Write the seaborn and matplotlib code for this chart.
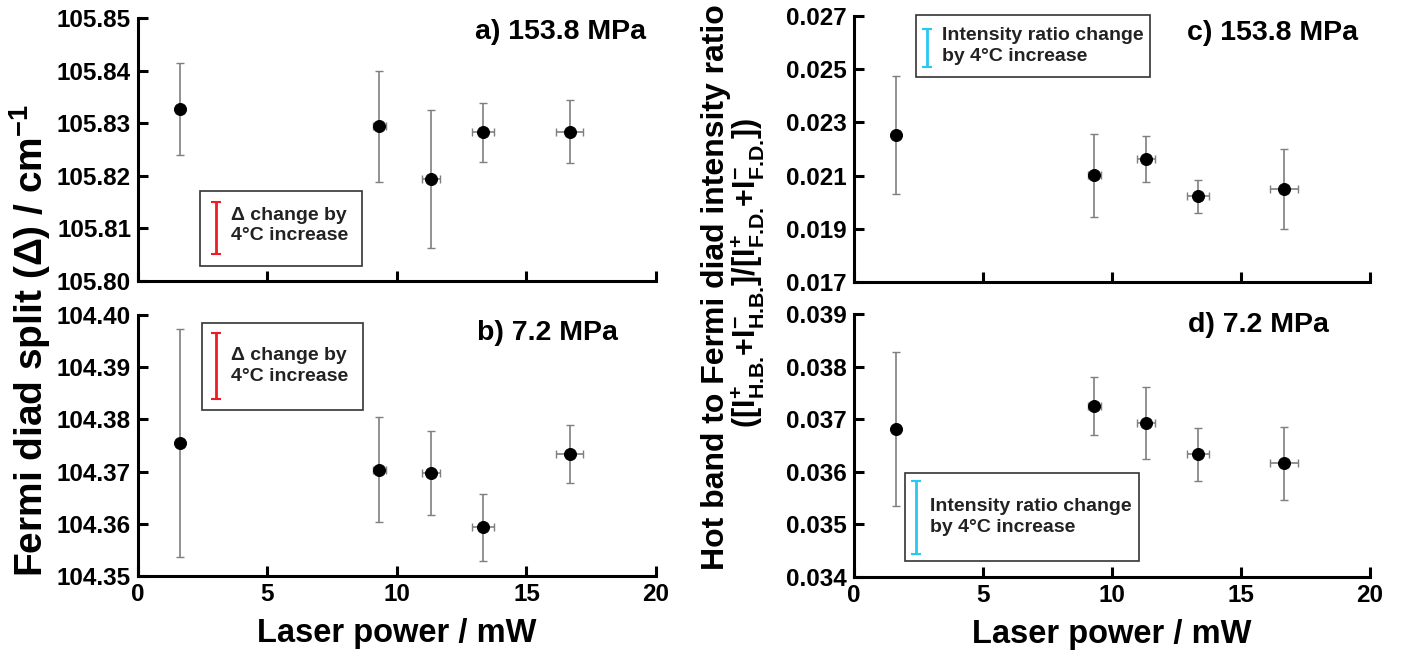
import numpy as np
import matplotlib
matplotlib.use('Agg')
import matplotlib.pyplot as plt
import seaborn as sns
from matplotlib.patches import Rectangle

## data
power = [1.62, 9.31, 11.31, 13.32, 16.67]                 # laser power / mW
power_err = [0.0, 0.25, 0.36, 0.42, 0.53]

split_hi = [105.8327, 105.8294, 105.8194, 105.8283, 105.8284]   # a) 153.8 MPa
split_hi_err = [0.0088, 0.0105, 0.0131, 0.0056, 0.0060]
split_lo = [104.3755, 104.3704, 104.3697, 104.3593, 104.3734]   # b) 7.2 MPa
split_lo_err = [0.0218, 0.0100, 0.0081, 0.0065, 0.0055]

ratio_hi = [0.02252, 0.02102, 0.02163, 0.02022, 0.02049]        # c) 153.8 MPa
ratio_hi_err = [0.00221, 0.00156, 0.00087, 0.00063, 0.00151]
ratio_lo = [0.03681, 0.03725, 0.03693, 0.03633, 0.03616]        # d) 7.2 MPa
ratio_lo_err = [0.00146, 0.00055, 0.00068, 0.00050, 0.00069]

## "change by 4 C increase" scale bars (x, centre, half length)
bar_x = [3.0, 3.0, 2.83, 2.41]
bar_mid = [105.8101, 104.3903, 0.02579, 0.03513]
bar_half = [0.0049, 0.0063, 0.00071, 0.00070]

titles = ['a) 153.8 MPa', 'b) 7.2 MPa', 'c) 153.8 MPa', 'd) 7.2 MPa']
ylims = [(105.80, 105.85), (104.35, 104.40), (0.017, 0.027), (0.034, 0.039)]
ystep = [0.01, 0.01, 0.002, 0.001]
yfmt = ['%.2f', '%.2f', '%.3f', '%.3f']

sns.set_style('ticks')
plt.rcParams['font.family'] = ['Liberation Sans', 'DejaVu Sans']
plt.rcParams['font.weight'] = 'bold'
plt.rcParams['text.color'] = 'black'
plt.rcParams['xtick.color'] = 'black'
plt.rcParams['ytick.color'] = 'black'
plt.rcParams['axes.labelcolor'] = 'black'
plt.rcParams['mathtext.fontset'] = 'custom'
plt.rcParams['mathtext.bf'] = 'Liberation Sans:bold'
plt.rcParams['mathtext.rm'] = 'Liberation Sans:bold'

fig = plt.figure(figsize=(14.02, 6.54), dpi=100)
rects = [[0.0984, 0.5703, 0.3695, 0.4022], [0.0984, 0.1193, 0.3695, 0.3990],
         [0.6091, 0.5688, 0.3681, 0.4067], [0.6091, 0.1177, 0.3681, 0.4022]]
series = [(split_hi, split_hi_err), (split_lo, split_lo_err),
          (ratio_hi, ratio_hi_err), (ratio_lo, ratio_lo_err)]

boxes = [(0.120, 0.056, 0.312, 0.286), (0.1235, 0.636, 0.311, 0.334),
         (0.1205, 0.769, 0.4535, 0.234), (0.099, 0.060, 0.453, 0.334)]
box_txt = ['Δ change by\n4°C increase', 'Δ change by\n4°C increase',
           'Intensity ratio change\nby 4°C increase', 'Intensity ratio change\nby 4°C increase']
txt_pos = [(0.180, 0.21), (0.180, 0.805), (0.170, 0.887), (0.147, 0.228)]
bar_col = ['#ee1c25', '#ee1c25', '#29c8f2', '#29c8f2']
title_pos = [(0.651, 0.947), (0.654, 0.931), (0.645, 0.936), (0.647, 0.958)]

for i in range(4):
    ax = fig.add_axes(rects[i])
    y, yerr = series[i]
    ax.errorbar(power, y, yerr=yerr, xerr=power_err, fmt='none', ecolor='#7f7f7f',
                elinewidth=1.2, capsize=3, capthick=1.0, zorder=2)
    sns.scatterplot(x=power, y=y, ax=ax, color='black', s=75, edgecolor='black', zorder=3)
    ax.set_xlim(0, 20)
    ax.set_ylim(*ylims[i])
    ax.set_xticks(np.arange(0, 21, 5))
    ax.set_yticks(np.arange(ylims[i][0], ylims[i][1] + ystep[i] / 2, ystep[i]))
    ax.yaxis.set_major_formatter(matplotlib.ticker.FormatStrFormatter(yfmt[i]))
    sns.despine(ax=ax)
    for s in ['left', 'bottom']:
        ax.spines[s].set_linewidth(2.2)
        ax.spines[s].set_color('black')
    ax.tick_params(direction='in', length=7, width=2.2, labelsize=17.5, pad=5)
    for lab in ax.get_xticklabels() + ax.get_yticklabels():
        lab.set_fontweight('bold')
    if i in (0, 2):
        ax.tick_params(axis='x', labelbottom=False)
    else:
        ax.set_xlabel('Laser power / mW', fontsize=23.5, fontweight='bold', labelpad=9)
    ax.text(title_pos[i][0], title_pos[i][1], titles[i], transform=ax.transAxes, fontsize=20.5,
            fontweight='bold', va='center', ha='left')
    bx = boxes[i]
    ax.add_patch(Rectangle((bx[0], bx[1]), bx[2], bx[3], transform=ax.transAxes, fill=False,
                           edgecolor='#333333', lw=1.2, zorder=4, clip_on=False))
    ax.errorbar([bar_x[i]], [bar_mid[i]], yerr=[bar_half[i]], fmt='none', ecolor=bar_col[i],
                elinewidth=2.0, capsize=3.5, capthick=1.5, zorder=5)
    ax.text(txt_pos[i][0], txt_pos[i][1], box_txt[i], transform=ax.transAxes, fontsize=14,
            fontweight='bold', va='center', ha='left', linespacing=1.25, color='#222222')

fig.text(0.0218, 0.479, 'Fermi diad split (Δ) / cm$^{\\mathbf{-1}}$', rotation=90, fontsize=28,
         fontweight='bold', ha='center', va='center')
fig.text(0.5107, 0.561, 'Hot band to Fermi diad intensity ratio', rotation=90, fontsize=23,
         fontweight='bold', ha='center', va='center')
fig.text(0.5335, 0.582,
         r'$\mathbf{([I^{+}_{\text{H.B.}}{+}I^{-}_{\text{H.B.}}]/[I^{+}_{\text{F.D.}}{+}I^{-}_{\text{F.D.}}])}$',
         rotation=90, fontsize=22, ha='center', va='center')

fig.savefig('out.png', dpi=100, facecolor='white')
